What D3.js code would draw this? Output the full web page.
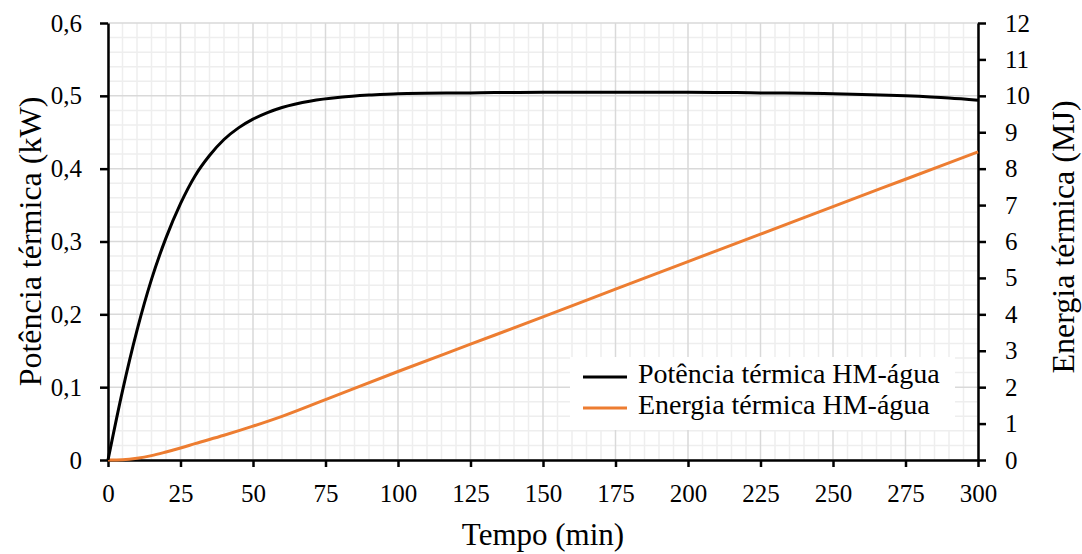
<!DOCTYPE html>
<html>
<head>
<meta charset="utf-8">
<script src="https://cdn.jsdelivr.net/npm/d3@7"></script>
<style>
  body { margin: 0; background: #fff; }
</style>
</head>
<body>
<div id="chart"></div>
<script>
// data
var tempo = [0, 5, 10, 15, 20, 25, 30, 35, 40, 45, 50, 55, 60, 70, 80, 90, 100, 125, 150, 175, 200, 225, 250, 275, 290, 300];
var potencia = [0, 0.095, 0.178, 0.248, 0.305, 0.352, 0.39, 0.418, 0.44, 0.456, 0.468, 0.477, 0.484, 0.493, 0.498, 0.501, 0.503, 0.504, 0.505, 0.505, 0.505, 0.504, 0.503, 0.5, 0.497, 0.494];
var tempoE = [0, 5, 10, 15, 20, 25, 30, 40, 50, 60, 75, 100, 125, 150, 175, 200, 225, 250, 275, 300];
var energia = [0, 0.01, 0.05, 0.12, 0.22, 0.33, 0.45, 0.68, 0.93, 1.2, 1.66, 2.43, 3.18, 3.93, 4.69, 5.45, 6.2, 6.96, 7.71, 8.46];
var xTicks = [0, 25, 50, 75, 100, 125, 150, 175, 200, 225, 250, 275, 300];
var yLeftTicks = [0, 0.1, 0.2, 0.3, 0.4, 0.5, 0.6];
var yRightTicks = [0, 1, 2, 3, 4, 5, 6, 7, 8, 9, 10, 11, 12];
var seriesNames = ["Potência térmica HM-água", "Energia térmica HM-água"];
var seriesColors = ["#000000", "#ed7d31"];

var FONT = "'Liberation Serif'";
var svgWidth = 1082, svgHeight = 554;
var margin = {top: 23, right: 104, bottom: 94, left: 108};

var svg = d3.select("#chart").append("svg")
  .attr("width", svgWidth)
  .attr("height", svgHeight);

var x = d3.scaleLinear().domain([0, 300]).range([margin.left, svgWidth - margin.right]);
var yL = d3.scaleLinear().domain([0, 0.6]).range([svgHeight - margin.bottom, margin.top]);
var yR = d3.scaleLinear().domain([0, 12]).range([svgHeight - margin.bottom, margin.top]);

// grid: minor then major
var grid = svg.append("g");
d3.range(5, 300, 5).filter(d => d % 25 !== 0).forEach(function(d) {
  grid.append("line").attr("x1", x(d)).attr("x2", x(d)).attr("y1", yL(0)).attr("y2", yL(0.6))
    .attr("stroke", "#eeeeee").attr("stroke-width", 1.5);
});
d3.range(1, 30).filter(d => d % 5 !== 0).forEach(function(i) {
  var v = i * 0.02;
  grid.append("line").attr("x1", x(0)).attr("x2", x(300)).attr("y1", yL(v)).attr("y2", yL(v))
    .attr("stroke", "#eeeeee").attr("stroke-width", 1.5);
});
xTicks.forEach(function(d) {
  grid.append("line").attr("x1", x(d)).attr("x2", x(d)).attr("y1", yL(0)).attr("y2", yL(0.6))
    .attr("stroke", "#d9d9d9").attr("stroke-width", 1.5);
});
yLeftTicks.forEach(function(d) {
  grid.append("line").attr("x1", x(0)).attr("x2", x(300)).attr("y1", yL(d)).attr("y2", yL(d))
    .attr("stroke", "#d9d9d9").attr("stroke-width", 1.5);
});

var comma = d => String(d).replace(".", ",");

// axes
var leftAxis = d3.axisLeft(yL).tickValues(yLeftTicks).tickFormat(comma).tickSize(8).tickSizeOuter(0).tickPadding(18);
var bottomAxis = d3.axisBottom(x).tickValues(xTicks).tickSize(7).tickSizeOuter(0).tickPadding(17);
var rightAxis = d3.axisRight(yR).tickValues(yRightTicks).tickSize(8).tickSizeOuter(0).tickPadding(19);

function styleAxis(g) {
  g.attr("font-family", "Liberation Serif").attr("font-size", 25);
  g.select(".domain").attr("stroke", "#000").attr("stroke-width", 2.5);
  g.selectAll(".tick line").attr("stroke", "#000").attr("stroke-width", 2.5);
  g.selectAll(".tick text").style("font-family", FONT).style("font-size", "25px").attr("fill", "#000");
}

svg.append("g").attr("transform", `translate(${x(0)},0)`).call(leftAxis).call(styleAxis);
svg.append("g").attr("transform", `translate(${x(300)},0)`).call(rightAxis).call(styleAxis);
svg.append("g").attr("transform", `translate(0,${yL(0)})`).call(bottomAxis).call(styleAxis);

// lines
var linePot = d3.line().x((d, i) => x(tempo[i])).y(d => yL(d)).curve(d3.curveMonotoneX);
var lineEn = d3.line().x((d, i) => x(tempoE[i])).y(d => yR(d)).curve(d3.curveMonotoneX);

svg.append("path").datum(energia).attr("d", lineEn)
  .attr("fill", "none").attr("stroke", seriesColors[1]).attr("stroke-width", 3);
svg.append("path").datum(potencia).attr("d", linePot)
  .attr("fill", "none").attr("stroke", seriesColors[0]).attr("stroke-width", 3);

// legend
var legend = svg.append("g");
legend.append("rect").attr("x", 570).attr("y", 357).attr("width", 385).attr("height", 73).attr("fill", "#fff");
seriesNames.forEach(function(name, i) {
  var yy = 377 + i * 31;
  legend.append("line").attr("x1", 583).attr("x2", 627).attr("y1", yy).attr("y2", yy)
    .attr("stroke", seriesColors[i]).attr("stroke-width", 3);
  legend.append("text").attr("x", 638).attr("y", yy + 6)
    .style("font-family", FONT).style("font-size", "28px").text(name);
});

// axis titles
svg.append("text").attr("x", x(150)).attr("y", 545).attr("text-anchor", "middle")
  .style("font-family", FONT).style("font-size", "31px").text("Tempo (min)");
svg.append("text").attr("transform", `translate(41,${(yL(0) + yL(0.6)) / 2}) rotate(-90)`)
  .attr("text-anchor", "middle").style("font-family", FONT).style("font-size", "32px").text("Potência térmica (kW)");
svg.append("text").attr("transform", `translate(1074,237) rotate(-90)`)
  .attr("text-anchor", "middle").style("font-family", FONT).style("font-size", "32px").text("Energia térmica (MJ)");
</script>
</body>
</html>
